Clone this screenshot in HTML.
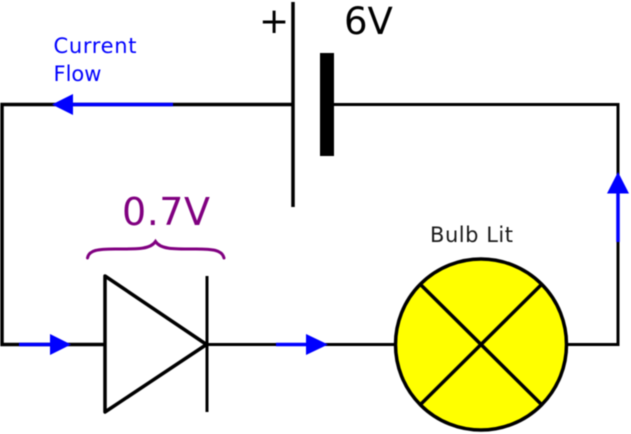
<!DOCTYPE html>
<html>
<head>
<meta charset="utf-8">
<style>
html,body{margin:0;padding:0;background:#fff;width:631px;height:434px;overflow:hidden}
svg{display:block;filter:blur(0.4px)}
text{font-family:"DejaVu Sans",sans-serif}
</style>
</head>
<body>
<svg width="631" height="434" viewBox="0 0 631 434" xmlns="http://www.w3.org/2000/svg">
  <rect width="631" height="434" fill="#fff"/>
  <g fill="none" stroke="#000" stroke-linejoin="miter">
    <path d="M293 104.500H2V344.500H105" stroke-width="3.500"/>
    <path d="M207 344.500H396" stroke-width="3"/>
    <path d="M566 344.500H618V104.500H334" stroke-width="3"/>
    <path d="M293 2V207" stroke-width="3.500"/>
    <path d="M105 276L206.500 344.500L105 412Z" stroke-width="3.500" stroke-linejoin="round"/>
    <path d="M207 276V412" stroke-width="3"/>
  </g>
  <rect x="320" y="53" width="14" height="103" fill="#000"/>
  <circle cx="481" cy="344.500" r="85.500" fill="#ff0" stroke="#000" stroke-width="3.500"/>
  <path d="M421 285L541 404M541 285L421 404" stroke="#000" stroke-width="3.500" fill="none"/>
  <path d="M87.500 258C89 250 98 249 115 249C135 249 150 250 155.500 241.500C161 250 176 249 196 249C213 249 222 250 224 258" fill="none" stroke="#800080" stroke-width="3" stroke-linecap="round"/>
  <g stroke="#00f" stroke-width="3.500" fill="none">
    <path d="M70 104.500H173"/>
    <path d="M19 344.500H52"/>
    <path d="M276 344.500H308"/>
    <path d="M618 190V242"/>
  </g>
  <g fill="#00f">
    <path d="M52 104.500L73 94V115Z"/>
    <path d="M71 344.500L50 334V355Z"/>
    <path d="M328 344.500L306 334V355Z"/>
    <path d="M618 172L607 193.500H629Z"/>
  </g>
  <text x="259" y="33" font-size="36" fill="#000">+</text>
  <text x="344" y="34" font-size="37" fill="#000">6V</text>
  <text x="122" y="225" font-size="38" fill="#800080" textLength="88">0.7V</text>
  <text x="53.500" y="53" font-size="21" fill="#00f" textLength="83">Current</text>
  <text x="53.500" y="81" font-size="21" fill="#00f">Flow</text>
  <text x="430" y="242" font-size="21" fill="#000" fill-opacity="0.9" textLength="83">Bulb Lit</text>
</svg>
</body>
</html>
